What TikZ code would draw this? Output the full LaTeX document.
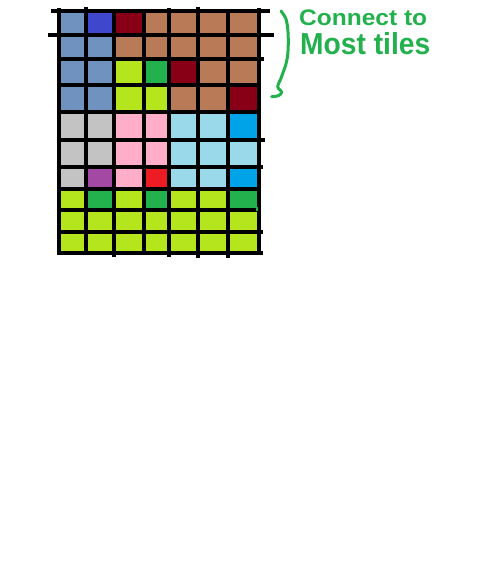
\documentclass[tikz,border=0pt]{standalone}
\usepackage{fontspec}
\newfontfamily\handfont{Liberation Sans}
\definecolor{sb}{HTML}{7092BE}
\definecolor{db}{HTML}{3F48CC}
\definecolor{mr}{HTML}{880015}
\definecolor{br}{HTML}{B97A57}
\definecolor{lm}{HTML}{B5E61D}
\definecolor{gr}{HTML}{22B14C}
\definecolor{gy}{HTML}{C3C3C3}
\definecolor{pk}{HTML}{FFAEC9}
\definecolor{lb}{HTML}{99D9EA}
\definecolor{bl}{HTML}{00A2E8}
\definecolor{pu}{HTML}{A349A4}
\definecolor{rd}{HTML}{ED1C24}
\def\XS{{59,86,114,144,169,198,228,259}}
\def\YS{{11,35,59,85,112,140,167,189,210,232,253}}
\newcommand\tilerow[2]{%
  \foreach \c [count=\i from 0] in {#2} {
    \pgfmathsetmacro\xa{\XS[\i]}
    \pgfmathsetmacro\xb{\XS[\i+1]}
    \pgfmathsetmacro\ya{\YS[#1]}
    \pgfmathsetmacro\yb{\YS[#1+1]}
    \fill[\c] (\xa,\ya) rectangle (\xb,\yb);
  }}
\tikzset{
  gridline/.style={black, line width=3.2pt, line cap=butt},
  handink/.style={gr, line width=3pt, line cap=round, line join=round},
  handtext/.style={text=gr, inner sep=0pt, anchor=base west, font=\handfont\bfseries}
}
\begin{document}
\begin{tikzpicture}[x=1pt, y=-1pt]
\fill[white] (0,0) rectangle (499,585);
\useasboundingbox (0,0) rectangle (499,585);
% tiles
\tilerow{0}{sb,db,mr,br,br,br,br}
\tilerow{1}{sb,sb,br,br,br,br,br}
\tilerow{2}{sb,sb,lm,gr,mr,br,br}
\tilerow{3}{sb,sb,lm,lm,br,br,mr}
\tilerow{4}{gy,gy,pk,pk,lb,lb,bl}
\tilerow{5}{gy,gy,pk,pk,lb,lb,lb}
\tilerow{6}{gy,pu,pk,rd,lb,lb,bl}
\tilerow{7}{lm,gr,lm,gr,lm,lm,gr}
\tilerow{8}{lm,lm,lm,lm,lm,lm,lm}
\tilerow{9}{lm,lm,lm,lm,lm,lm,lm}
% horizontal lines: y / left / right
\foreach \y/\l/\r in {11/51/270, 35/48/274, 59/59/264, 85/57/261, 112/59/260,
  140/59/265, 167/59/263, 189/59/260, 210/59/260, 232/59/263, 253/57/263}
  \draw[gridline] (\l,\y) -- (\r,\y);
% vertical lines: x / top / bottom
\foreach \x/\t/\b in {59/8/255, 86/7/253, 114/9/257, 144/9/253, 169/8/257,
  198/7/258, 228/10/258, 259/8/255}
  \draw[gridline] (\x,\t) -- (\x,\b);
% small notch and stray mark
\fill[black] (141.5,131) rectangle (145,135);
\fill[gr] (255.5,207) rectangle (258,211);
% brace
\draw[handink] plot[smooth, tension=0.5] coordinates {(281,11) (285.7,18.3) (287.7,28.3) (288.3,41.7) (287.7,55) (285.7,65) (283.3,71.7) (281,78.3) (277.7,86.7) (281.7,92.3) (278.3,95.7) (271.7,96.7)};
% text
\node[handtext] (t1) at (299,25.7) {\resizebox{128pt}{15.7pt}{Connect to}};
\node[handtext] (t2) at (300,55) {\resizebox{130pt}{22pt}{Most tiles}};
\end{tikzpicture}
\end{document}
